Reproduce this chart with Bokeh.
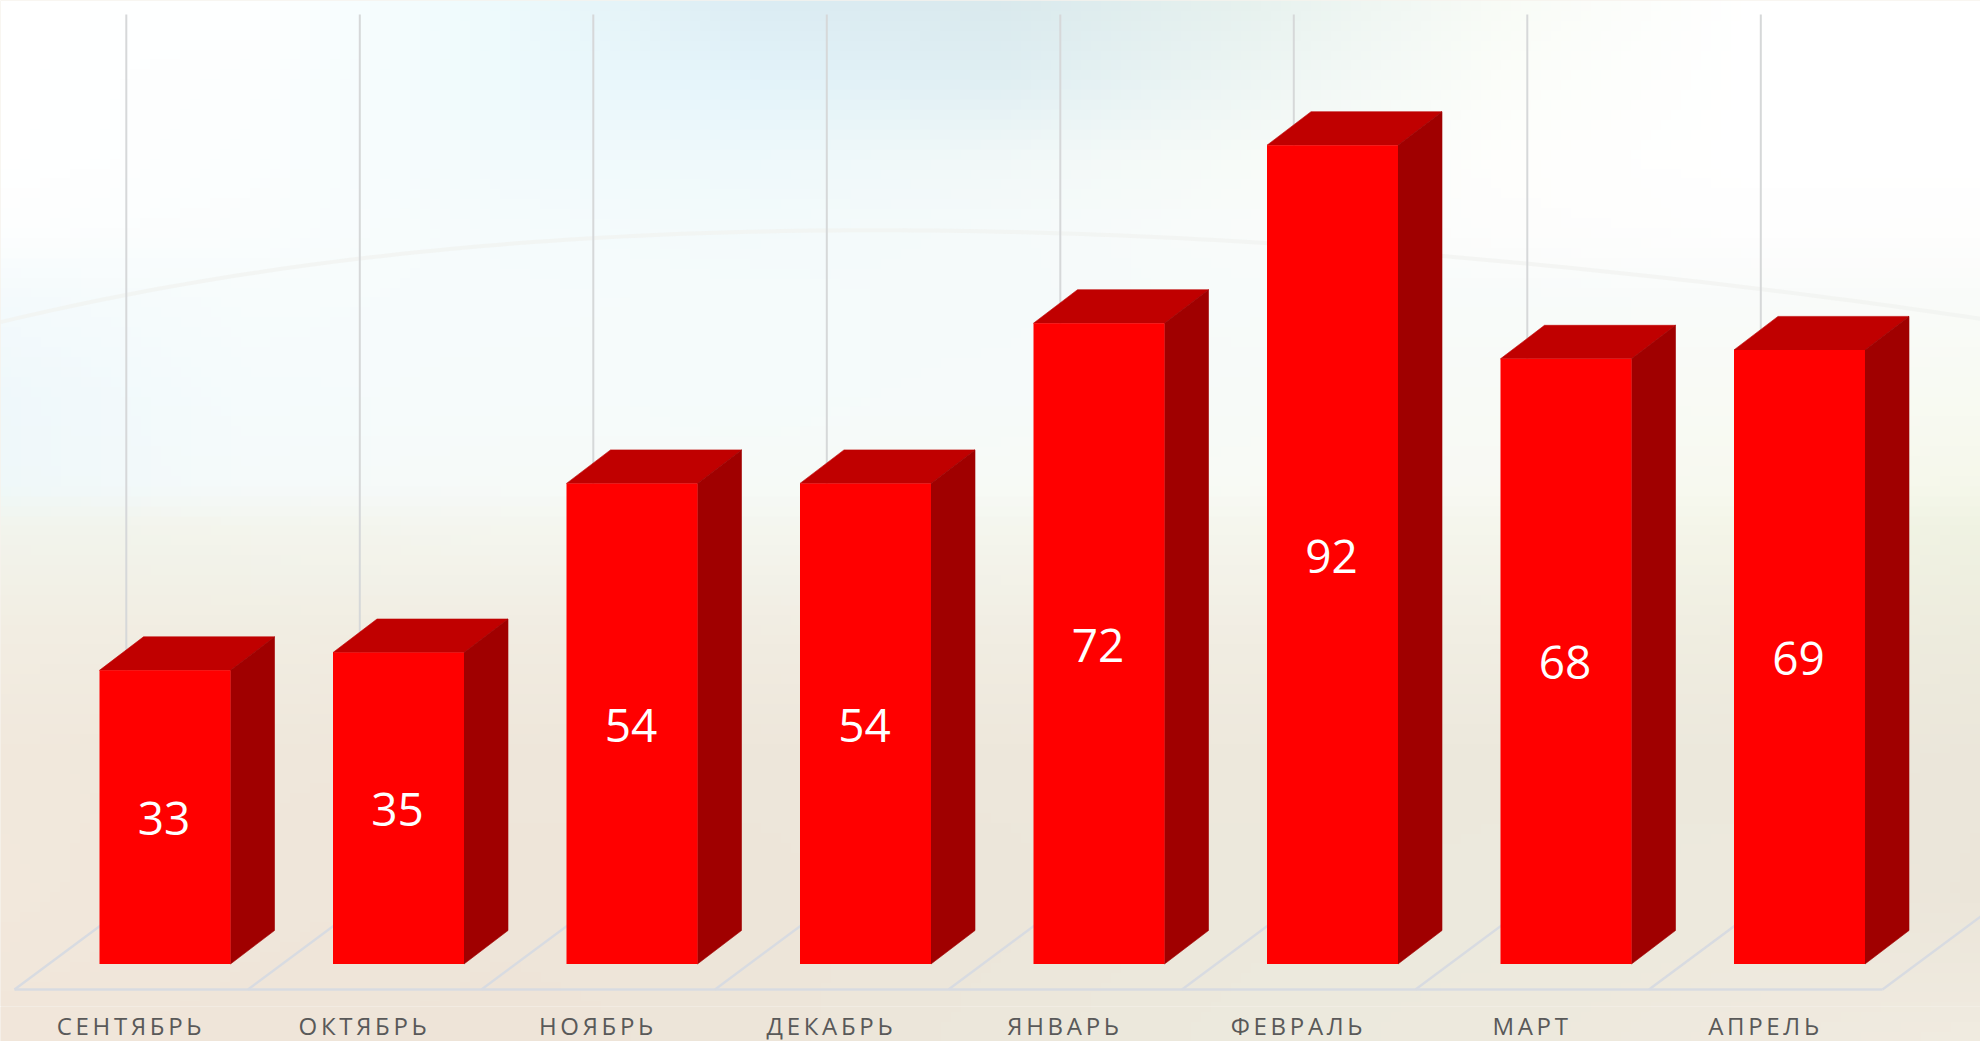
import numpy as np
from bokeh.plotting import figure
from bokeh.layouts import column
from bokeh.models import Range1d, InlineStyleSheet
from bokeh.core.properties import value
from bokeh.embed import file_html
from bokeh.resources import INLINE

months = ["СЕНТЯБРЬ", "ОКТЯБРЬ", "НОЯБРЬ", "ДЕКАБРЬ", "ЯНВАРЬ", "ФЕВРАЛЬ", "МАРТ", "АПРЕЛЬ"]
values = [33, 35, 54, 54, 72, 92, 68, 69]

# pixel calibration of the reference
PX_X0, PX_DX = 164.5, 233.5      # centre of first bar, step between bars
PX_Y0, PX_DY = 963.5, 8.9        # baseline, px per unit
LEFT, RIGHT = 0, 1980
TOP, SPLIT, BOTTOM = 0, 1006, 1041
xd = lambda px: (np.asarray(px, float) - PX_X0) / PX_DX
yd = lambda py: (PX_Y0 - np.asarray(py, float)) / PX_DY

BAR_W = 131 / PX_DX
DEPTH_X, DEPTH_Y = 44 / PX_DX, 33.5 / PX_DY
LETTER_SP = 3.7

# soft background (colour grid sampled by eye, rows top to bottom)
bg_cols = [0, 250, 500, 750, 1000, 1250, 1500, 1750, 1980]
bg_rows = [0, 80, 160, 230, 300, 400, 490, 530, 640, 760, 900, 1041]
bg_hex = [
    "ffffff feffff edfafc dbecf3 d9e9ed e6f1ee f8fbf6 ffffff ffffff",
    "ffffff fcfefe eefafc e3f3fa dfeef2 edf5f3 fbfdf9 ffffff ffffff",
    "ffffff fbfefe f2fafc eef9fb f1f8f8 f7fbf8 fefefc ffffff ffffff",
    "fdfefe fafdfd f5fbfc f3fafb f5fafa f9fbfa fdfdfc fefefe fefefd",
    "f4fafc f7fcfc f6fbfc f5fbfb f5fafa f7fbfa f8fbfa f9fbfa f9fbf9",
    "eff8fb f5fbfc f6fbfb f5fbfb f6fafa f7faf8 f8faf6 f9faf5 f8faf2",
    "eff8f9 f5fafa f6faf8 f6faf7 f7faf6 f8faf5 f8f9f3 f7f9ef f5f7ea",
    "f2f4ec f3f5ed f4f6ef f4f6ef f4f6ee f5f6ed f5f6ec f4f5e8 eff2e2",
    "f2ede2 f1ede2 f1ece1 f1ece1 f1ede2 f1ede2 f1eee3 efede0 edebdd",
    "f1e8dc efe7db eee6da ede6da ede7db ede8dc ece8dc ece8dc ebe6da",
    "f2e8dc efe6da eee5d9 ede5d9 ece6da ece8dc ece9dd ede9dd ebe5d9",
    "f1e6da efe5d9 eee4d8 ede5d9 ece7db ece9dd ede9dd efe9de f0ebe0",
]
bg = np.array([[[int(c[i:i + 2], 16) for i in (0, 2, 4)] for c in r.split()] for r in bg_hex], float)
gx = np.arange(0, 1980, 10) + 5
gy = np.arange(0, 1041, 10) + 5
tmp = np.stack([[np.interp(gx, bg_cols, bg[r, :, ch]) for r in range(len(bg_rows))] for ch in range(3)], axis=-1)
full = np.stack([[np.interp(gy, bg_rows, tmp[:, c, ch]) for c in range(len(gx))] for ch in range(3)], axis=-1)
rgba = np.zeros((len(gy), len(gx)), dtype=np.uint32)
view = rgba.view(np.uint8).reshape(len(gy), len(gx), 4)
view[..., :3] = np.clip(np.round(full.transpose(1, 0, 2)), 0, 255).astype(np.uint8)[::-1]
view[..., 3] = 255


def base_fig(height, top_px, bottom_px):
    f = figure(width=RIGHT - LEFT, height=height, output_backend="svg", toolbar_location=None,
               x_range=Range1d(float(xd(LEFT)), float(xd(RIGHT))),
               y_range=Range1d(float(yd(bottom_px)), float(yd(top_px))),
               min_border=0, outline_line_color=None,
               border_fill_color="#efe8dc", background_fill_color="#efe8dc")
    f.axis.visible = False
    f.grid.visible = False
    f.image_rgba(image=[rgba], x=float(xd(0)), y=float(yd(1041)), dw=1980 / PX_DX, dh=1041 / PX_DY)
    return f


p = base_fig(SPLIT - TOP, TOP, SPLIT)

# pale horizon arc
arc_x = [0, 126, 360, 593, 884, 1263, 1452, 1768, 1980]
arc_y = [322, 294, 257, 239, 230, 241, 257, 290, 318]
arc_fit = np.polyfit(arc_x, arc_y, 4)
arc_px = np.linspace(0, 1980, 120)
p.line(xd(arc_px), yd(np.polyval(arc_fit, arc_px)), line_color="#f1f2ef", line_width=4, line_alpha=0.7)

n = len(values)
idx = np.arange(n)

# vertical gridlines and floor
GRID_X = idx + (125.8 - PX_X0) / PX_DX
p.segment(GRID_X, float(yd(905)), GRID_X, float(yd(14)), line_color="#d6d8d9", line_width=2)
FLOOR_X = np.arange(n + 1) + (14 - PX_X0) / PX_DX
p.segment(float(FLOOR_X[0]), float(yd(989)), float(FLOOR_X[-1]), float(yd(989)), line_color="#d8dbe1", line_width=2.4)
p.segment(FLOOR_X, float(yd(989)), FLOOR_X + 113 / PX_DX, float(yd(905)), line_color="#d8dbe1", line_width=2.4)

# 3D bars
L, R = idx - BAR_W / 2, idx + BAR_W / 2
v = np.array(values, float)
p.patches([[a, b, b + DEPTH_X, a + DEPTH_X] for a, b in zip(L, R)],
          [[t, t, t + DEPTH_Y, t + DEPTH_Y] for t in v],
          fill_color="#C00000", line_color="#C00000", line_width=0.6)
p.patches([[b, b + DEPTH_X, b + DEPTH_X, b] for b in R],
          [[0, DEPTH_Y, t + DEPTH_Y, t] for t in v],
          fill_color="#A00000", line_color="#A00000", line_width=0.6)
p.vbar(x=idx, width=BAR_W, bottom=0, top=v, fill_color="#FF0000", line_color=None)

p.text(idx, v / 2, text=[str(x) for x in values], text_color="white",
       text_font=value("Open Sans"), text_font_size="46px",
       text_align="center", text_baseline="middle", x_offset=-1, y_offset=1.5)

# strip with the category labels (own letter-spacing)
s = base_fig(BOTTOM - SPLIT, SPLIT, BOTTOM)
s.text(idx + (130.5 - PX_X0) / PX_DX, float(yd(1024.5)), text=months, text_color="#595959",
       text_font=value("Open Sans"), text_font_size="24px",
       text_align="center", text_baseline="middle",
       x_offset=[-len(m) * LETTER_SP / 2 for m in months])
s.stylesheets = [InlineStyleSheet(css=":host{letter-spacing:%.1fpx;}" % LETTER_SP)]

layout = column(p, s, spacing=0)

open("out.html", "w").write(file_html(layout, INLINE))
